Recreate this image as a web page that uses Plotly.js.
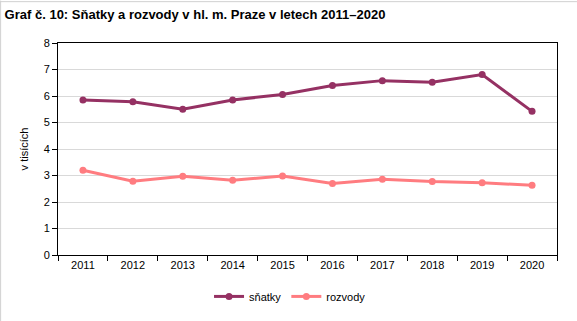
<!DOCTYPE html>
<html><head><meta charset="utf-8">
<script src="https://cdn.plot.ly/plotly-3.0.1.min.js"></script>
<style>html,body{margin:0;padding:0;background:#fff}#c{width:577px;height:321px}</style>
</head><body><div id="c"></div>
<script>
const years = ['2011','2012','2013','2014','2015','2016','2017','2018','2019','2020'];
const snatky = [5.85, 5.78, 5.50, 5.85, 6.06, 6.40, 6.58, 6.52, 6.81, 5.42];
const rozvody = [3.20, 2.78, 2.97, 2.82, 2.98, 2.70, 2.86, 2.77, 2.73, 2.63];
const yTicks = [0,1,2,3,4,5,6,7,8];

const font = {family:'Liberation Sans, Arial, sans-serif', size:11, color:'#000'};
const traces = [
  {x:years, y:snatky, name:'sňatky', type:'scatter', mode:'lines+markers',
   line:{color:'#953163', width:3}, marker:{color:'#953163', size:7}},
  {x:years, y:rozvody, name:'rozvody', type:'scatter', mode:'lines+markers',
   line:{color:'#FF7C80', width:3}, marker:{color:'#FF7C80', size:7}}
];
const layout = {
  width:577, height:321,
  margin:{l:58, r:20, t:43, b:66, autoexpand:false},
  paper_bgcolor:'#fff', plot_bgcolor:'#fff',
  font:font,
  title:{text:'<b>Graf č. 10: Sňatky a rozvody v hl. m. Praze v letech 2011–2020</b>',
    x:0.008, xanchor:'left', y:0.955, yanchor:'middle',
    font:{family:'Liberation Sans, Arial, sans-serif', size:13, color:'#000'}},
  xaxis:{type:'category', range:[-0.5,9.5], tickson:'boundaries', ticks:'outside', ticklen:5,
    tickcolor:'#000', showline:true, linecolor:'#000', linewidth:1, mirror:true,
    showgrid:false, zeroline:false, tickfont:font, fixedrange:true},
  yaxis:{range:[0,8], tickvals:yTicks, ticktext:yTicks.map(String), ticks:'outside', ticklen:5,
    tickcolor:'#000', showline:true, linecolor:'#000', linewidth:1, mirror:true,
    showgrid:true, gridcolor:'#d9d9d9', gridwidth:1, zeroline:false, tickfont:font,
    title:{text:'v tisících', font:font, standoff:12}, fixedrange:true},
  showlegend:true,
  legend:{orientation:'h', x:0.465, xanchor:'center', y:-0.127, yanchor:'top', font:font,
    itemwidth:30, tracegroupgap:0, bgcolor:'rgba(0,0,0,0)'},
  shapes:[
    {type:'line', xref:'paper', yref:'paper', x0:-0.115, x1:-0.115, y0:-0.32, y1:1.2, line:{color:'#d0d0d0', width:1}},
    {type:'line', xref:'paper', yref:'paper', x0:-0.116, x1:1.04, y0:1.195, y1:1.195, line:{color:'#d0d0d0', width:1}}
  ]
};
Plotly.newPlot('c', traces, layout, {staticPlot:true, displayModeBar:false});
</script></body></html>
